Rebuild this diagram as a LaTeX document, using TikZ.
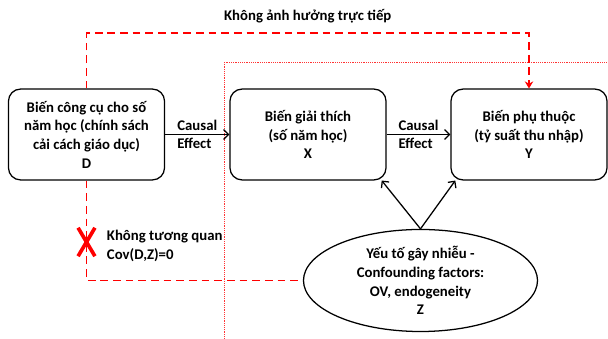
\documentclass[tikz,border=0pt]{standalone}
\usepackage{fontspec}
\setmainfont{Carlito}
\usetikzlibrary{shapes.geometric,shapes.misc,arrows.meta}
\tikzset{
	varbox/.style={rectangle, rounded corners=0.3cm, draw, line width=0.9pt, minimum width=3.9cm, minimum height=2.27cm, align=center},
	confound/.style={ellipse, draw, line width=0.9pt, minimum width=5.85cm, minimum height=2.55cm, inner sep=0pt, align=center},
	causal/.style={line width=0.9pt, -{Straight Barb[length=3.5pt,width=7pt]}},
	nodirect/.style={red, line width=1.4pt, dash pattern=on 5.5pt off 3.5pt},
	framedot/.style={red!80, line width=0.3pt, densely dotted},
	crossmark/.style={cross out, draw=red, line width=2.6pt, minimum width=0.33cm, minimum height=0.62cm, inner sep=0pt},
	every node/.style={text=black, font=\bfseries\fontsize{10.5}{13.3}\selectfont}
}
\begin{document}
\begin{tikzpicture}[x=0.025cm, y=-0.025cm]
	\useasboundingbox (0,0) rectangle (608,339);
	\draw[framedot] (608,62) -- (224,62) -- (224,339);

	\node (D)[varbox] at (86.5,134.5) {Biến công cụ cho số\\năm học (chính sách\\cải cách giáo dục)\\D};
	\node (X)[varbox] at (308,134.5) {Biến giải thích\\(số năm học)\\X};
	\node (Y)[varbox] at (529,134.5) {Biến phụ thuộc\\(tỷ suất thu nhập)\\Y};
	\node (Z)[confound] at (420.5,280.5) {Yếu tố gây nhiễu -\\Confounding factors:\\OV, endogeneity\\Z};

	\draw[causal] (D) -- node[align=left] {Causal\\Effect} (X);
	\draw[causal] (X) -- node[align=left] {Causal\\Effect} (Y);
	\draw[causal] (Z.north) -- (X.-32);
	\draw[causal] (Z.north) -- (Y.-148);

	\draw[nodirect, -{Stealth[length=5pt,width=6pt]}] (D.north) -- ++(0,-55) -| node[pos=0.25, above=3pt] {Không ảnh hưởng trực tiếp} (Y.north);
	\draw[nodirect] (D.south) |- (Z.west);

	\node (nocorr)[crossmark] at (86.5,242) {};
	\node (nocorrtext)[anchor=west, align=left] at (102,246) {Không tương quan\\Cov(D,Z)=0};
\end{tikzpicture}
\end{document}
